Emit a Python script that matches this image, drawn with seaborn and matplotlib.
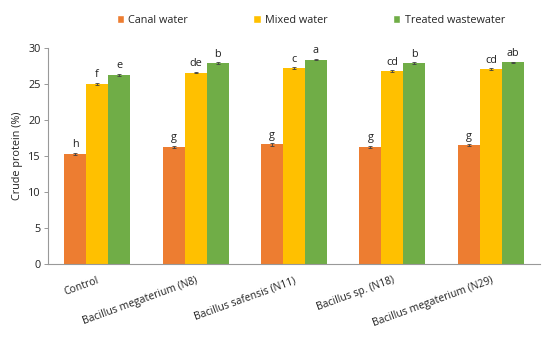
import matplotlib
matplotlib.use("Agg")
import matplotlib.pyplot as plt
import seaborn as sns
import pandas as pd
import numpy as np

categories = ["Control", "Bacillus megaterium (N8)", "Bacillus safensis (N11)",
              "Bacillus sp. (N18)", "Bacillus megaterium (N29)"]
series = ["Canal water", "Mixed water", "Treated wastewater"]
canal = [15.3, 16.3, 16.6, 16.3, 16.5]
mixed = [25.0, 26.6, 27.2, 26.8, 27.1]
treated = [26.3, 27.9, 28.4, 27.9, 28.0]
canal_err = [0.15, 0.15, 0.15, 0.15, 0.15]
mixed_err = [0.15, 0.12, 0.12, 0.12, 0.12]
treated_err = [0.12, 0.1, 0.12, 0.1, 0.1]
canal_lbl = ["h", "g", "g", "g", "g"]
mixed_lbl = ["f", "de", "c", "cd", "cd"]
treated_lbl = ["e", "b", "a", "b", "ab"]
colors = ["#ED7D31", "#FFC000", "#70AD47"]

rows = []
for s, vals, errs, lbls in zip(series, [canal, mixed, treated],
                               [canal_err, mixed_err, treated_err],
                               [canal_lbl, mixed_lbl, treated_lbl]):
    for c, v, e, l in zip(categories, vals, errs, lbls):
        rows.append(dict(cat=c, series=s, val=v, err=e, lbl=l))
df = pd.DataFrame(rows)

sns.set_style("white")
plt.rcParams['font.family'] = ['Open Sans', 'DejaVu Sans']
fig = plt.figure(figsize=(5.5, 3.41), dpi=100)
ax = fig.add_axes([0.087, 0.226, 0.895, 0.633])

sns.barplot(data=df, x="cat", y="val", hue="series", order=categories,
            hue_order=series, palette=colors, width=0.67, errorbar=None,
            saturation=1, ax=ax, legend=False, linewidth=0, edgecolor="none")

for i, s in enumerate(series):
    cont = ax.containers[i]
    sub = df[df.series == s].set_index("cat").loc[categories]
    xs = [p.get_x() + p.get_width() / 2 for p in cont.patches]
    ax.errorbar(xs, sub.val.values, yerr=sub.err.values, fmt="none",
                ecolor="#404040", elinewidth=0.6, capsize=1.5, capthick=0.6)
    for x, v, e, l in zip(xs, sub.val.values, sub.err.values, sub.lbl.values):
        ax.text(x, v + e + 0.35, l, ha="center", va="bottom", fontsize=7.8,
                color="#222222")

ax.set_ylim(0, 30)
ax.set_yticks(range(0, 31, 5))
ax.set_xlim(-0.5, 4.5)
ax.set_xlabel("")
ax.set_ylabel("Crude protein (%)", fontsize=7.8, color="#222222")
ax.tick_params(axis="y", labelsize=7.8, length=3, width=0.6, color="#888888",
               direction="out", left=True, labelcolor="#222222", pad=2)
ax.tick_params(axis="x", length=0, labelsize=7.5, labelcolor="#222222", pad=8)
ax.set_xticks(range(len(categories)))
ax.set_xticklabels(categories, rotation=20, ha="right", va="top",
                   rotation_mode="anchor")
for sp in ["top", "right"]:
    ax.spines[sp].set_visible(False)
for sp in ["left", "bottom"]:
    ax.spines[sp].set_color("#999999")
    ax.spines[sp].set_linewidth(0.8)

from matplotlib.patches import Patch
handles = [Patch(facecolor=c, label=s) for c, s in zip(colors, series)]
fig.legend(handles=handles, loc="upper center", bbox_to_anchor=(0.565, 0.985),
           ncol=3, frameon=False, fontsize=7.8, handlelength=0.7,
           handleheight=0.7, columnspacing=6.0, handletextpad=0.4)

fig.savefig("out.png", dpi=100)
